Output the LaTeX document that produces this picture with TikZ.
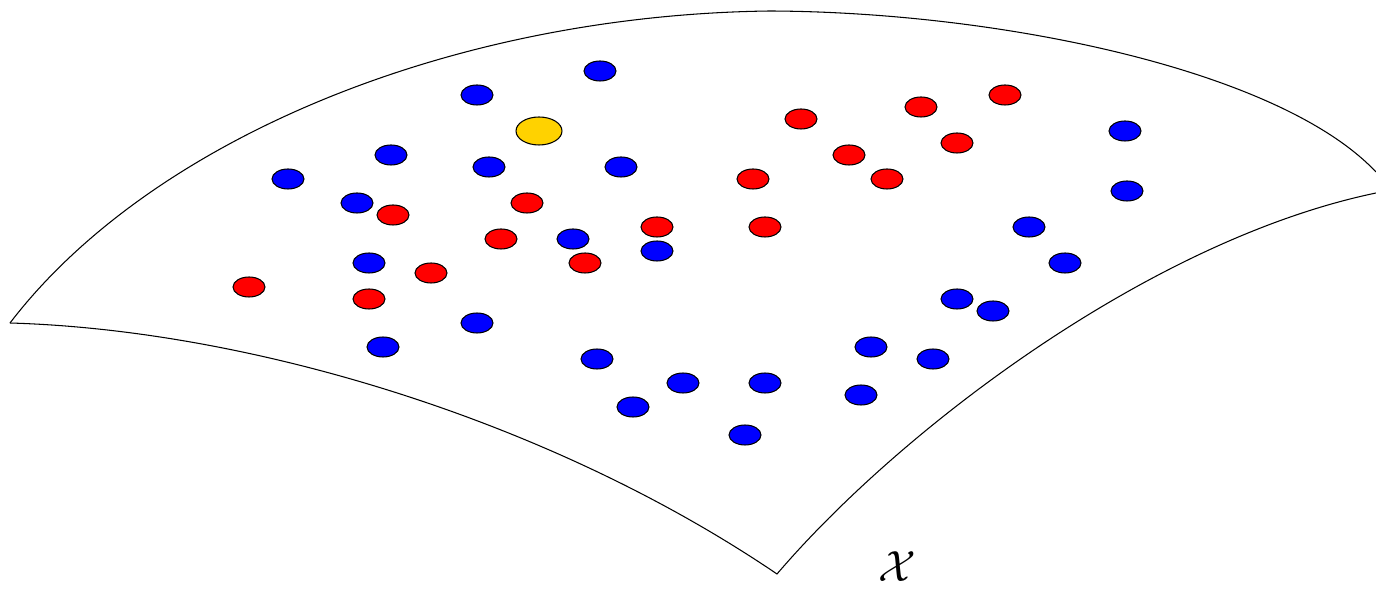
\documentclass[tikz,border=0pt]{standalone}
\usetikzlibrary{shapes.geometric}
\definecolor{ptblue}{RGB}{0,0,255}
\definecolor{ptred}{RGB}{255,0,0}
\definecolor{ptyellow}{RGB}{255,210,0}
\tikzset{
  pt/.style={ellipse, draw=black, line width=0.6pt, inner sep=0pt, minimum width=0.64cm, minimum height=0.4cm},
  bpt/.style={pt, fill=ptblue},
  rpt/.style={pt, fill=ptred},
  ypt/.style={pt, fill=ptyellow, minimum width=0.92cm, minimum height=0.56cm},
  edge/.style={line width=0.6pt}
}
\begin{document}
\begin{tikzpicture}[x=0.02cm,y=-0.02cm]
\useasboundingbox (0,0) rectangle (1376,590);
\coordinate (L) at (10,323);
\coordinate (T) at (770,11);
\coordinate (R1) at (1376,172);
\coordinate (R2) at (1376,193);
\coordinate (B) at (777,574);
\draw[edge] (L) .. controls (150,140) and (450,15) .. (T)
  .. controls (1000,12) and (1280,70) .. (R1);
\draw[edge] (L) .. controls (250,330) and (550,420) .. (B)
  .. controls (900,430) and (1150,240) .. (R2);
% blue
\foreach \n/\x/\y in {b1/600/71, b2/477/95, b3/391/155, b4/489/167, b5/621/167, b6/288/179, b7/357/203, b8/573/239, b9/657/251, b10/369/263, b11/477/323, b12/383/347, b13/597/359, b14/683/383, b15/765/383, b16/633/407, b17/745/435, b18/871/347, b19/933/359, b20/861/395, b21/957/299, b22/993/311, b23/1029/227, b24/1065/263, b25/1125/131, b26/1127/191}
  \node[bpt] (\n) at (\x,\y) {};
% red
\foreach \n/\x/\y in {r1/801/119, r2/921/107, r3/1005/95, r4/849/155, r5/957/143, r6/887/179, r7/753/179, r8/527/203, r9/393/215, r10/501/239, r11/657/227, r12/765/227, r13/585/263, r14/431/273, r15/249/287, r16/369/299}
  \node[rpt] (\n) at (\x,\y) {};
\node[ypt] (y1) at (539,131) {};
\node (lbl) at (897,567) {\fontsize{36}{43}\selectfont $\mathcal{X}$};
\end{tikzpicture}
\end{document}
